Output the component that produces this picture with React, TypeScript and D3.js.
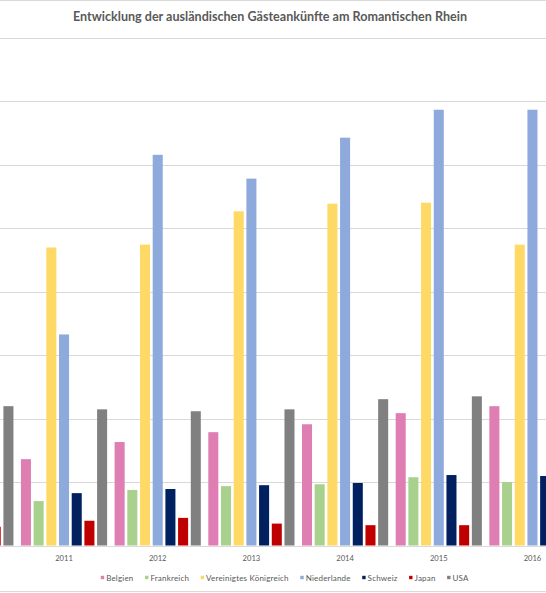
import { useEffect, useRef } from 'react';
import * as d3 from 'd3';

// Jahre (2010 ist links angeschnitten, 2016 rechts)
const years = ['2010', '2011', '2012', '2013', '2014', '2015', '2016'];

const seriesNames = [
  'Belgien',
  'Frankreich',
  'Vereinigtes Königreich',
  'Niederlande',
  'Schweiz',
  'Japan',
  'USA',
];

const seriesColors = ['#DE7EB2', '#A9D18E', '#FFD966', '#8EA9DB', '#002060', '#C00000', '#808080'];

// Gästeankünfte je Land, ein Wert pro Jahr
const belgien = [25000, 27200, 32600, 35700, 38200, 41700, 43900];
const frankreich = [13000, 14000, 17500, 18700, 19300, 21500, 20000];
const vereinigtesKoenigreich = [90000, 93900, 94800, 105300, 107700, 108000, 94800];
const niederlande = [60000, 66500, 123100, 115600, 128500, 137300, 137300];
const schweiz = [15000, 16500, 17800, 19000, 19700, 22200, 21900];
const japan = [5900, 7800, 8700, 6900, 6400, 6400, 6500];
const usa = [43900, 42900, 42300, 42900, 46100, 47000, 47000];

const yTicks = [0, 20000, 40000, 60000, 80000, 100000, 120000, 140000, 160000];

const title = 'Entwicklung der ausländischen Gästeankünfte am Romantischen Rhein';

const W = 546;
const H = 593;

export default function App() {
  const svgRef = useRef<SVGSVGElement>(null);

  useEffect(() => {
    if (!svgRef.current) return;
    d3.select(svgRef.current).selectAll('*').remove();

    const svg = d3.select(svgRef.current);
    const font = 'Lato, "Open Sans", sans-serif';

    const values = [belgien, frankreich, vereinigtesKoenigreich, niederlande, schweiz, japan, usa];
    const rows = years.map((year, i) => ({
      year,
      bars: seriesNames.map((name, s) => ({ name, value: values[s][i], color: seriesColors[s] })),
    }));

    // plot area runs past both edges of the picture
    const plotLeft = -76.5;
    const plotRight = 579.3;
    const plotTop = 37.7;
    const plotBottom = 545.5;

    const x0 = d3.scaleBand<string>()
      .domain(years)
      .range([plotLeft, plotRight])
      .paddingInner(0.08)
      .paddingOuter(0.04);

    const x1 = d3.scaleBand<string>()
      .domain(seriesNames)
      .range([0, x0.bandwidth()])
      .paddingInner(0.21);

    const y = d3.scaleLinear()
      .domain([0, 160000])
      .range([plotBottom, plotTop]);

    // chart border (top and bottom visible)
    svg.append('rect')
      .attr('x', -1)
      .attr('y', 0.5)
      .attr('width', W + 2)
      .attr('height', H - 2)
      .attr('fill', 'white')
      .attr('stroke', '#D9D9D9')
      .attr('stroke-width', 1);

    // title
    svg.append('text')
      .attr('x', 270)
      .attr('y', 21)
      .attr('text-anchor', 'middle')
      .attr('textLength', 394)
      .attr('lengthAdjust', 'spacingAndGlyphs')
      .style('font-family', font)
      .style('font-size', '12.5px')
      .style('font-weight', 'bold')
      .style('fill', '#595959')
      .text(title);

    // gridlines
    svg.append('g')
      .selectAll('line')
      .data(yTicks)
      .enter()
      .append('line')
      .attr('x1', plotLeft)
      .attr('x2', plotRight)
      .attr('y1', d => Math.round(y(d)) + 0.5)
      .attr('y2', d => Math.round(y(d)) + 0.5)
      .attr('stroke', '#D9D9D9')
      .attr('stroke-width', 1);

    // bars
    const groups = svg.append('g')
      .selectAll('g')
      .data(rows)
      .enter()
      .append('g')
      .attr('transform', d => `translate(${x0(d.year)},0)`);

    groups.selectAll('rect')
      .data(d => d.bars)
      .enter()
      .append('rect')
      .attr('x', d => x1(d.name) || 0)
      .attr('y', d => y(d.value))
      .attr('width', x1.bandwidth())
      .attr('height', d => y(0) - y(d.value))
      .attr('fill', d => d.color);

    // category axis labels (only those whose centre lies inside the picture)
    const labelX = (d: string) => (x0(d) || 0) + x0.bandwidth() / 2;
    svg.append('g')
      .selectAll('text')
      .data(years.filter(d => labelX(d) > 0 && labelX(d) < W))
      .enter()
      .append('text')
      .attr('x', labelX)
      .attr('y', plotBottom + 15.5)
      .attr('text-anchor', 'middle')
      .style('font-family', font)
      .style('font-size', '7.6px')
      .style('fill', '#595959')
      .text(d => d);

    // legend, laid out from measured text widths
    const legend = svg.append('g');
    const marker = 3.4;
    const markerGap = 2;
    const itemGap = 11.5;
    let cursor = 0;
    seriesNames.forEach((name, i) => {
      const item = legend.append('g').attr('transform', `translate(${cursor},0)`);
      item.append('rect')
        .attr('x', 0)
        .attr('y', -marker / 2 - 0.5)
        .attr('width', marker)
        .attr('height', marker)
        .attr('fill', seriesColors[i]);
      const t = item.append('text')
        .attr('x', marker + markerGap)
        .attr('y', 2.8)
        .style('font-family', font)
        .style('font-size', '8px')
        .style('letter-spacing', '0.2px')
        .style('fill', '#595959')
        .text(name);
      const w = (t.node() as SVGTextElement).getComputedTextLength();
      cursor += marker + markerGap + w + itemGap;
    });
    const legendWidth = cursor - itemGap;
    legend.attr('transform', `translate(${284.7 - legendWidth / 2},578)`);
  }, []);

  return (
    <div style={{ position: 'absolute', left: 0, top: 0, width: W, height: H, overflow: 'hidden', background: 'white' }}>
      <svg ref={svgRef} width={W} height={H} style={{ display: 'block' }} />
    </div>
  );
}
